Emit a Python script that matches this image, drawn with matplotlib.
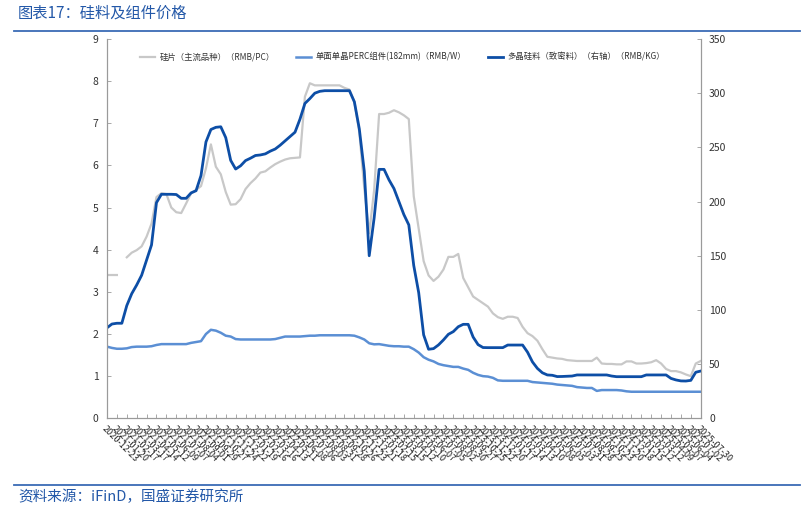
import pandas as pd
import numpy as np
import matplotlib
matplotlib.use('Agg')
import matplotlib.pyplot as plt

plt.rcParams['font.family'] = ['Noto Sans CJK SC', 'DejaVu Sans']

# biweekly sample dates
dates = pd.date_range('2020-12-23', periods=121, freq='14D')

# 硅片（主流品种） RMB/PC
wafer = [3.40, 3.40, 3.40, np.nan, 3.82, 3.93, 3.99, 4.08, 4.31, 4.62,
         5.25, 5.34, 5.32, 5.00, 4.89, 4.87, 5.10, 5.34, 5.42, 5.51,
         5.93, 6.50, 5.97, 5.79, 5.37, 5.07, 5.08, 5.20, 5.44, 5.58,
         5.69, 5.83, 5.86, 5.95, 6.03, 6.09, 6.14, 6.17, 6.18, 6.19,
         7.63, 7.95, 7.90, 7.90, 7.90, 7.90, 7.90, 7.90, 7.84, 7.80,
         7.51, 6.79, 5.46, 4.39, 5.42, 7.22, 7.22, 7.25, 7.31, 7.26,
         7.19, 7.10, 5.27, 4.50, 3.73, 3.39, 3.26, 3.36, 3.53, 3.83,
         3.83, 3.90, 3.33, 3.11, 2.89, 2.81, 2.73, 2.65, 2.49, 2.40,
         2.36, 2.41, 2.41, 2.38, 2.17, 2.02, 1.95, 1.84, 1.64, 1.46,
         1.44, 1.42, 1.41, 1.38, 1.37, 1.36, 1.36, 1.36, 1.36, 1.44,
         1.30, 1.29, 1.29, 1.28, 1.28, 1.35, 1.35, 1.30, 1.30, 1.31,
         1.33, 1.38, 1.30, 1.17, 1.12, 1.12, 1.09, 1.04, 1.00, 1.30,
         1.36]

# 单面单晶PERC组件(182mm) RMB/W
module = [1.70, 1.67, 1.65, 1.65, 1.66, 1.69, 1.70, 1.70, 1.70, 1.71,
          1.74, 1.76, 1.76, 1.76, 1.76, 1.76, 1.76, 1.79, 1.81, 1.83,
          2.00, 2.10, 2.08, 2.03, 1.96, 1.94, 1.88, 1.87, 1.87, 1.87,
          1.87, 1.87, 1.87, 1.87, 1.88, 1.91, 1.94, 1.94, 1.94, 1.94,
          1.95, 1.96, 1.96, 1.97, 1.97, 1.97, 1.97, 1.97, 1.97, 1.97,
          1.96, 1.92, 1.87, 1.78, 1.755, 1.76, 1.74, 1.72, 1.71, 1.71,
          1.70, 1.70, 1.64, 1.56, 1.45, 1.39, 1.35, 1.29, 1.26, 1.24,
          1.22, 1.22, 1.18, 1.15, 1.08, 1.03, 1.00, 0.99, 0.96, 0.90,
          0.89, 0.89, 0.89, 0.89, 0.89, 0.89, 0.86, 0.85, 0.84, 0.83,
          0.82, 0.80, 0.79, 0.78, 0.77, 0.74, 0.73, 0.72, 0.72, 0.65,
          0.67, 0.67, 0.67, 0.67, 0.66, 0.64, 0.63, 0.63, 0.63, 0.63,
          0.63, 0.63, 0.63, 0.63, 0.63, 0.63, 0.63, 0.63, 0.63, 0.63,
          0.63]

# 多晶硅料（致密料） RMB/KG, right axis
poly = [83.5, 87.0, 87.7, 87.7, 104, 115, 123, 132, 146, 160,
        199, 206.7, 206.7, 206.7, 206.5, 203, 203, 208, 210, 224,
        255, 266.5, 268.5, 269, 259, 238, 230, 233, 237.8, 240,
        242.5, 243, 244, 246.5, 248.5, 252, 256, 260, 264, 276,
        290.5, 295, 300, 301.7, 302.3, 302.3, 302.3, 302.3, 302.3, 302.3,
        292, 267, 228, 150, 185, 229.7, 229.7, 220, 212, 200,
        188, 178.5, 141, 116, 77, 63.7, 64.3, 67.7, 72.3, 77.5,
        80, 84.5, 86.7, 86.7, 75, 68, 65.3, 65.2, 65.2, 65.2,
        65.2, 67.6, 67.6, 67.6, 67.6, 61, 52, 46, 42, 40,
        39.7, 38.5, 38.6, 38.8, 39, 40, 40, 40, 40, 40,
        40, 40, 39, 38.4, 38.4, 38.4, 38.4, 38.4, 38.4, 40,
        40, 40, 40, 40, 36.8, 35.4, 34.5, 34.4, 35, 42.5,
        43.6]

tick_dates = dates[::2]
tick_labels = [d.strftime('%Y-%m-%d') for d in tick_dates]

fig = plt.figure(figsize=(8.1, 5.09), dpi=100)
ax = fig.add_axes([107 / 810, 1 - 418.3 / 509, (700.7 - 107) / 810, (418.3 - 39) / 509])
ax2 = ax.twinx()

l1, = ax.plot(dates, wafer, color='#c8c8c8', lw=1.6, label='硅片（主流品种）（RMB/PC）')
l2, = ax.plot(dates, module, color='#5b8fd4', lw=1.8, label='单面单晶PERC组件(182mm)（RMB/W）')
l3, = ax2.plot(dates, poly, color='#0d4ea6', lw=2.0, label='多晶硅料（致密料）（右轴）（RMB/KG）')

ax.set_xlim(dates[0], dates[-1])
ax.set_ylim(0, 9)
ax.set_yticks(range(0, 10))
ax2.set_ylim(0, 350)
ax2.set_yticks(range(0, 351, 50))

ax.set_xticks(tick_dates)
ax.set_xticklabels(tick_labels, rotation=-45, ha='left', va='top',
                   rotation_mode='anchor', fontsize=6.5, color='#222222')

for a in (ax, ax2):
    a.spines['top'].set_visible(False)
    for s in ('left', 'right', 'bottom'):
        a.spines[s].set_color('#9a9a9a')
        a.spines[s].set_linewidth(0.8)
    a.tick_params(direction='in', length=3, width=0.6, color='#9a9a9a',
                  labelsize=7.5, labelcolor='#333333')
ax.tick_params(axis='x', pad=4, labelsize=6.5, labelcolor='#222222')
ax.tick_params(axis='y', pad=6)
ax2.tick_params(axis='y', pad=6)

fig.legend(handles=[l1, l2, l3], loc='center', bbox_to_anchor=(0.497, 1 - 57 / 509),
           ncol=3, frameon=False, fontsize=6, handlelength=1.8,
           handletextpad=0.5, columnspacing=2.6, labelcolor='#333333')

# header / footer
fig.text(18 / 810, 1 - 13 / 509, '图表17：硅料及组件价格', fontsize=11,
         color='#2358a8', ha='left', va='center', style='italic')
fig.add_artist(plt.Line2D([14 / 810, 800 / 810], [1 - 31 / 509, 1 - 31 / 509],
                          color='#3a6bb5', lw=1.3))
fig.add_artist(plt.Line2D([14 / 810, 800 / 810], [1 - 485 / 509, 1 - 485 / 509],
                          color='#3a6bb5', lw=1.3))
fig.text(18 / 810, 1 - 497 / 509, '资料来源：iFinD，国盛证券研究所', fontsize=10.5,
         color='#2358a8', ha='left', va='center', style='italic')

fig.savefig('out.png', dpi=100)
